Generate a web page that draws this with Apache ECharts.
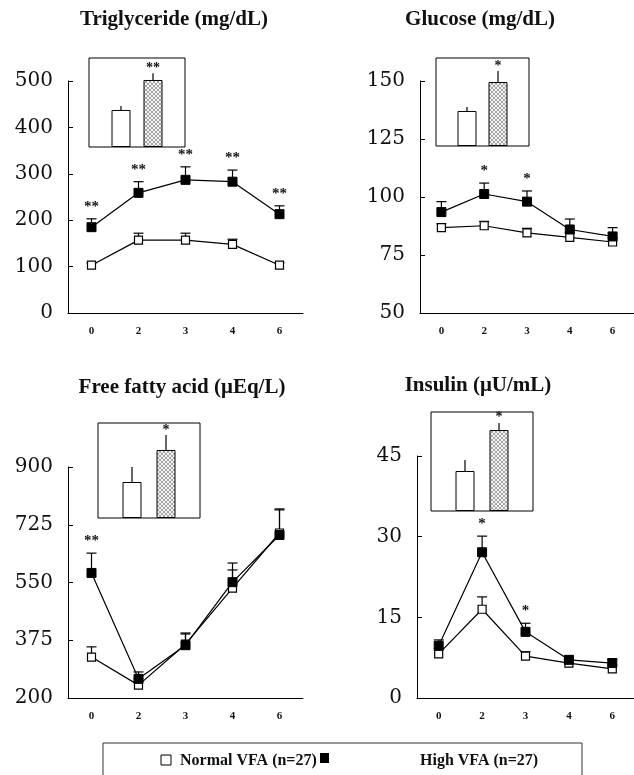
<!DOCTYPE html>
<html>
<head>
<meta charset="utf-8">
<script src="https://cdn.jsdelivr.net/npm/echarts@6/dist/echarts.min.js"></script>
<style>
  html, body { margin: 0; padding: 0; background: #fff; }
  #chart { width: 634px; height: 775px; }
</style>
</head>
<body>
<div id="chart"></div>
<script>
var hours = ['0', '2', '3', '4', '6'];

// Triglyceride (mg/dL)
var tgTicks = [0, 100, 200, 300, 400, 500];
var tgNormal = [103, 157, 157, 148, 103];
var tgNormalErr = [108, 172, 172, 159, 108];
var tgHigh = [185, 259, 287, 283, 213];
var tgHighErr = [203, 283, 315, 308, 231];
var tgSig = ['**', '**', '**', '**', '**'];

// Glucose (mg/dL)
var gluTicks = [50, 75, 100, 125, 150];
var gluNormal = [86.8, 87.6, 84.5, 82.6, 80.6];
var gluNormalErr = [88.5, 89.5, 86.5, 84.5, 82.5];
var gluHigh = [93.5, 101.3, 98, 86, 83];
var gluHighErr = [98, 106, 102.6, 90.5, 86.8];
var gluSig = ['', '*', '*', '', ''];

// Free fatty acid (uEq/L)
var ffaTicks = [200, 375, 550, 725, 900];
var ffaNormal = [324, 239, 363, 533, 700];
var ffaNormalErr = [355, 258, 397, 588, 773];
var ffaHigh = [579, 258, 360, 551, 694];
var ffaHighErr = [639, 279, 394, 609, 770];
var ffaSig = ['**', '', '', '', ''];

// Insulin (uU/mL)
var insTicks = [0, 15, 30, 45];
var insNormal = [8.2, 16.5, 7.8, 6.5, 5.4];
var insNormalErr = [9.2, 18.8, 8.6, 7.2, 6.1];
var insHigh = [9.7, 27.1, 12.3, 7.1, 6.5];
var insHighErr = [10.8, 30.1, 13.9, 7.8, 7.2];
var insSig = ['', '*', '*', '', ''];

// insets (relative heights, no scale shown): [normal, high]
var insetGroups = ['', 'Normal', 'High', ''];
var tgInset = [41.6, 75.3];
var tgInsetErr = [46, 83];
var gluInset = [39.8, 72.7];
var gluInsetErr = [44.3, 85.2];
var ffaInset = [37.9, 71.6];
var ffaInsetErr = [53.7, 87.4];
var insInset = [40.4, 81.8];
var insInsetErr = [51.5, 89];

var hatch = document.createElement('canvas');
hatch.width = 4;
hatch.height = 4;
var hctx = hatch.getContext('2d');
hctx.fillStyle = '#f2f2f2';
hctx.fillRect(0, 0, 4, 4);
hctx.strokeStyle = '#a8a8a8';
hctx.lineWidth = 1;
hctx.beginPath();
hctx.moveTo(0, 0); hctx.lineTo(4, 4);
hctx.moveTo(4, 0); hctx.lineTo(0, 4);
hctx.stroke();

var panels = [
  { grid: { left: 68, top: 81, width: 235, height: 232 }, inset: { left: 89, top: 58, width: 96, height: 89 },
    ticks: tgTicks, normal: tgNormal, normalErr: tgNormalErr, high: tgHigh, highErr: tgHighErr, sig: tgSig,
    insetVal: tgInset, insetErr: tgInsetErr, insetSig: '**' },
  { grid: { left: 420, top: 81, width: 220, height: 232 }, inset: { left: 436, top: 58, width: 93, height: 88 },
    ticks: gluTicks, normal: gluNormal, normalErr: gluNormalErr, high: gluHigh, highErr: gluHighErr, sig: gluSig,
    insetVal: gluInset, insetErr: gluInsetErr, insetSig: '*' },
  { grid: { left: 68, top: 467, width: 235, height: 231 }, inset: { left: 98, top: 423, width: 102, height: 95 },
    ticks: ffaTicks, normal: ffaNormal, normalErr: ffaNormalErr, high: ffaHigh, highErr: ffaHighErr, sig: ffaSig,
    insetVal: ffaInset, insetErr: ffaInsetErr, insetSig: '*' },
  { grid: { left: 417, top: 456, width: 230, height: 242 }, inset: { left: 431, top: 412, width: 102, height: 99 },
    ticks: insTicks, normal: insNormal, normalErr: insNormalErr, high: insHigh, highErr: insHighErr, sig: insSig,
    insetVal: insInset, insetErr: insInsetErr, insetSig: '*' }
];

var titles = [
  { text: 'Triglyceride (mg/dL)', left: 174, top: 9 },
  { text: 'Glucose (mg/dL)', left: 480, top: 9 },
  { text: 'Free fatty acid (\u03bcEq/L)', left: 182, top: 377 },
  { text: 'Insulin (\u03bcU/mL)', left: 478, top: 375 }
];

function pairs(vals, tops) {
  return vals.map(function (v, i) { return [i, v, tops[i]]; });
}

function errorBars(cap) {
  return function (params, api) {
    var p1 = api.coord([api.value(0), api.value(1)]);
    var p2 = api.coord([api.value(0), api.value(2)]);
    var children = [{
      type: 'line',
      shape: { x1: p1[0], y1: p1[1], x2: p2[0], y2: p2[1] },
      style: { stroke: '#000', lineWidth: 1.2 }
    }];
    if (cap) {
      children.push({
        type: 'line',
        shape: { x1: p2[0] - cap, y1: p2[1], x2: p2[0] + cap, y2: p2[1] },
        style: { stroke: '#000', lineWidth: 1.2 }
      });
    }
    return { type: 'group', children: children };
  };
}

function stars(labels, offset, size) {
  return function (params, api) {
    var t = labels[params.dataIndex];
    if (!t) return null;
    var p = api.coord([api.value(0), api.value(1)]);
    return {
      type: 'text',
      x: p[0],
      y: p[1] - offset,
      style: {
        text: t, fill: '#111', align: 'center', verticalAlign: 'middle',
        fontSize: size, fontWeight: 'bold', fontFamily: 'Liberation Serif'
      }
    };
  };
}

var grid = [], xAxis = [], yAxis = [], series = [];

panels.forEach(function (p) {
  var g = grid.length;
  grid.push(p.grid);
  xAxis.push({
    gridIndex: g, type: 'category', data: hours, boundaryGap: true,
    axisLine: { lineStyle: { color: '#000', width: 1 } },
    axisTick: { inside: true, length: 4, lineStyle: { color: '#000' } },
    axisLabel: { margin: 13, fontSize: 11, fontWeight: 'bold', fontFamily: 'Liberation Serif', color: '#111' },
    splitLine: { show: false }
  });
  yAxis.push({
    gridIndex: g, type: 'value', min: p.ticks[0], max: p.ticks[p.ticks.length - 1],
    axisLine: { show: true, lineStyle: { color: '#000', width: 1 } },
    axisTick: { show: true, inside: true, length: 5, customValues: p.ticks, lineStyle: { color: '#000' } },
    axisLabel: { customValues: p.ticks, margin: 15, fontSize: 20, fontFamily: 'DejaVu Serif', color: '#111' },
    splitLine: { show: false }
  });

  series.push({
    type: 'custom', xAxisIndex: g, yAxisIndex: g, z: 2,
    renderItem: errorBars(5), data: pairs(p.normal, p.normalErr)
  });
  series.push({
    type: 'custom', xAxisIndex: g, yAxisIndex: g, z: 2,
    renderItem: errorBars(5), data: pairs(p.high, p.highErr)
  });
  series.push({
    name: 'Normal VFA (n=27)', type: 'line', xAxisIndex: g, yAxisIndex: g, z: 3,
    data: p.normal, symbol: 'rect', symbolSize: 8,
    itemStyle: { color: '#fff', borderColor: '#000', borderWidth: 1.2 },
    lineStyle: { color: '#000', width: 1.2 }
  });
  series.push({
    name: 'High VFA (n=27)', type: 'line', xAxisIndex: g, yAxisIndex: g, z: 4,
    data: p.high, symbol: 'rect', symbolSize: 9,
    itemStyle: { color: '#000', borderColor: '#000', borderWidth: 1 },
    lineStyle: { color: '#000', width: 1.2 }
  });
  series.push({
    type: 'custom', xAxisIndex: g, yAxisIndex: g, z: 5,
    renderItem: stars(p.sig, 12, 15), data: pairs(p.highErr, p.highErr)
  });

  // inset bar chart
  var h = grid.length;
  grid.push({ left: p.inset.left, top: p.inset.top, width: p.inset.width, height: p.inset.height,
    show: true, borderColor: '#000', borderWidth: 1, backgroundColor: '#fff', z: 6 });
  xAxis.push({ gridIndex: h, type: 'category', data: insetGroups, boundaryGap: false, show: false });
  yAxis.push({ gridIndex: h, type: 'value', min: 0, max: 100, show: false });
  series.push({
    type: 'bar', xAxisIndex: h, yAxisIndex: h, barWidth: 19, z: 7,
    data: ['-',
      { value: p.insetVal[0], itemStyle: { color: '#fff', borderColor: '#000', borderWidth: 1 } },
      { value: p.insetVal[1], itemStyle: { color: { image: hatch, repeat: 'repeat' }, borderColor: '#000', borderWidth: 1 } },
      '-']
  });
  series.push({
    type: 'custom', xAxisIndex: h, yAxisIndex: h, z: 7,
    renderItem: errorBars(0),
    data: [[1, p.insetVal[0], p.insetErr[0]], [2, p.insetVal[1], p.insetErr[1]]]
  });
  series.push({
    type: 'custom', xAxisIndex: h, yAxisIndex: h, z: 8,
    renderItem: stars(['', p.insetSig], 5, 14),
    data: [[1, p.insetErr[0]], [2, p.insetErr[1]]]
  });
});

var option = {
  animation: false,
  backgroundColor: '#fff',
  title: titles.map(function (t) {
    return {
      text: t.text, left: t.left, top: t.top, textAlign: 'center', padding: 0,
      textStyle: { fontFamily: 'Liberation Serif', fontWeight: 'bold', fontSize: 21, color: '#111' }
    };
  }),
  grid: grid,
  xAxis: xAxis,
  yAxis: yAxis,
  series: series,
  graphic: [
    { type: 'rect', shape: { x: 103, y: 743, width: 479, height: 60 }, style: { fill: 'none', stroke: '#333', lineWidth: 1 } },
    { type: 'rect', shape: { x: 161, y: 755, width: 10, height: 10 }, style: { fill: '#fff', stroke: '#000', lineWidth: 1 } },
    { type: 'text', x: 180, y: 761, style: { text: 'Normal VFA (n=27)', fill: '#111', verticalAlign: 'middle', font: 'bold 16px "Liberation Serif"' } },
    { type: 'rect', shape: { x: 320, y: 753, width: 9, height: 10 }, style: { fill: '#000' } },
    { type: 'text', x: 420, y: 761, style: { text: 'High VFA (n=27)', fill: '#111', verticalAlign: 'middle', font: 'bold 16px "Liberation Serif"' } }
  ]
};

var chart = echarts.init(document.getElementById('chart'));
chart.setOption(option, true);
</script>
</body>
</html>
